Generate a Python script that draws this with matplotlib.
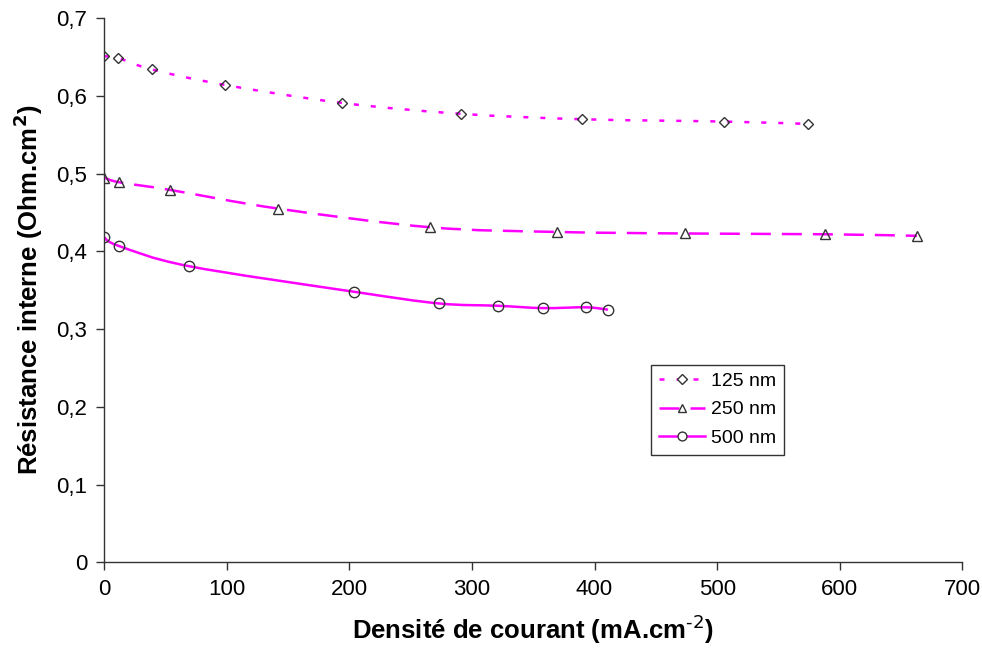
import matplotlib

matplotlib.use("Agg")
import matplotlib.pyplot as plt
from matplotlib.lines import Line2D
from matplotlib.patches import PathPatch
from matplotlib.path import Path

# Current density (mA.cm-2) and internal resistance (Ohm.cm2)
X_125 = [0, 11, 39, 99, 194, 291, 390, 506, 574]
Y_125 = [0.651, 0.649, 0.634, 0.614, 0.591, 0.577, 0.570, 0.567, 0.564]

X_250 = [0, 12, 54, 142, 266, 369, 474, 588, 663]
Y_250 = [0.495, 0.489, 0.479, 0.455, 0.431, 0.425, 0.423, 0.422, 0.420]

X_500 = [0, 12, 69, 204, 273, 321, 358, 393, 411]
Y_500 = [0.418, 0.407, 0.381, 0.348, 0.333, 0.330, 0.327, 0.328, 0.325]

LABELS = ["125 nm", "250 nm", "500 nm"]
X_TICKS = [0, 100, 200, 300, 400, 500, 600, 700]
Y_TICKS = [0, 0.1, 0.2, 0.3, 0.4, 0.5, 0.6, 0.7]

MAGENTA = "#FF00FF"
EDGE = "#333333"
LW = 1.8


def smooth_path(xs, ys):
    """Excel-like smoothed line: Catmull-Rom converted to cubic Bezier segments."""
    pts = list(zip(xs, ys))
    verts = [pts[0]]
    codes = [Path.MOVETO]
    n = len(pts)
    for i in range(n - 1):
        p0 = pts[max(i - 1, 0)]
        p1 = pts[i]
        p2 = pts[i + 1]
        p3 = pts[min(i + 2, n - 1)]
        c1 = (p1[0] + (p2[0] - p0[0]) / 6, p1[1] + (p2[1] - p0[1]) / 6)
        c2 = (p2[0] - (p3[0] - p1[0]) / 6, p2[1] - (p3[1] - p1[1]) / 6)
        verts += [c1, c2, p2]
        codes += [Path.CURVE4] * 3
    return Path(verts, codes)


def main():
    plt.rcParams["font.family"] = ["Liberation Sans", "DejaVu Sans"]

    fig = plt.figure(figsize=(9.82, 6.5), dpi=100)
    ax = fig.add_axes([0.106, 0.135, 0.874, 0.837])

    series = [
        (X_125, Y_125, "D", 5.5, (0, (2.0, 4.8))),
        (X_250, Y_250, "^", 7, (0, (8.0, 4.4))),
        (X_500, Y_500, "o", 7.5, "-"),
    ]
    handles = []
    for (xs, ys, marker, ms, ls), label in zip(series, LABELS):
        ax.add_patch(
            PathPatch(
                smooth_path(xs, ys),
                fill=False,
                edgecolor=MAGENTA,
                linewidth=LW,
                linestyle=ls,
                capstyle="butt",
                zorder=2,
            )
        )
        ax.plot(
            xs,
            ys,
            linestyle="none",
            marker=marker,
            markersize=ms,
            markerfacecolor="none",
            markeredgecolor=EDGE,
            markeredgewidth=1.0,
            zorder=3,
        )
        handles.append(
            Line2D(
                [],
                [],
                color=MAGENTA,
                linewidth=LW,
                linestyle=ls,
                marker=marker,
                markersize=ms * 0.85,
                markerfacecolor="white",
                markeredgecolor=EDGE,
                markeredgewidth=1.0,
            )
        )

    ax.set_xlim(0, 700)
    ax.set_ylim(0, 0.7)
    ax.set_xticks(X_TICKS)
    ax.set_yticks(Y_TICKS)
    ax.set_yticklabels([f"{v:.1f}".replace(".", ",") if v else "0" for v in Y_TICKS])
    ax.tick_params(labelsize=16, direction="out", length=6, width=1, color=EDGE, pad=6)

    for side in ("top", "right"):
        ax.spines[side].set_visible(False)
    for side in ("left", "bottom"):
        ax.spines[side].set_color(EDGE)
        ax.spines[side].set_linewidth(1)

    ax.set_xlabel(
        r"Densité de courant (mA.cm$^{\text{-}2}$)", fontsize=18.5, fontweight="bold", labelpad=9
    )
    ax.set_ylabel(
        r"Résistance interne (Ohm.cm$^{\mathbf{2}}$)", fontsize=18.5, fontweight="bold", labelpad=8
    )

    leg = ax.legend(
        handles,
        LABELS,
        loc="upper left",
        bbox_to_anchor=(0.637, 0.363),
        fontsize=14,
        frameon=True,
        fancybox=False,
        handlelength=2.4,
        handletextpad=0.3,
        borderpad=0.4,
        borderaxespad=0,
        labelspacing=0.55,
    )
    leg.get_frame().set_edgecolor("black")
    leg.get_frame().set_linewidth(1)

    fig.savefig("out.png", dpi=100)


if __name__ == "__main__":
    main()
